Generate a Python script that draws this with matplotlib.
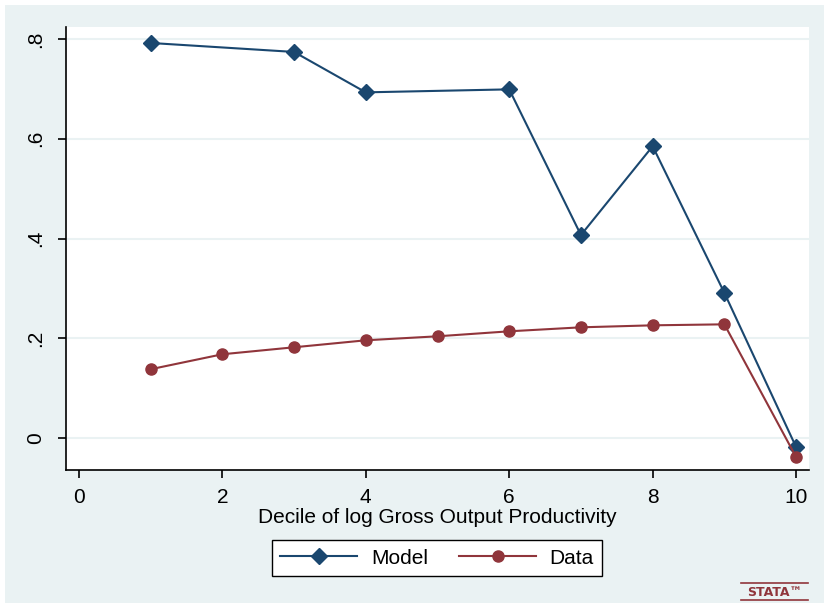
import matplotlib.pyplot as plt
from matplotlib.patches import Rectangle

plt.rcParams['font.family'] = ['Liberation Sans', 'DejaVu Sans']

# model values (deciles 2 and 5 missing)
model_x = [1, 3, 4, 6, 7, 8, 9, 10]
model_y = [0.792, 0.774, 0.693, 0.699, 0.407, 0.585, 0.291, -0.018]

data_x = [1, 2, 3, 4, 5, 6, 7, 8, 9, 10]
data_y = [0.138, 0.168, 0.182, 0.196, 0.204, 0.214, 0.222, 0.226, 0.228, -0.038]

yticks = [0, 0.2, 0.4, 0.6, 0.8]
ytick_labels = ["0", ".2", ".4", ".6", ".8"]
xticks = [0, 2, 4, 6, 8, 10]

navy = '#1a476f'
maroon = '#90353b'
bg = '#eaf2f3'

W, H = 824, 603
fig = plt.figure(figsize=(W / 100, H / 100), dpi=100)
fig.patch.set_facecolor('white')
fig.patches.append(Rectangle((5 / W, 0), 1 - 5 / W, 1 - 5 / H, transform=fig.transFigure,
                             facecolor=bg, edgecolor='none', zorder=-5))

ax = fig.add_axes([66 / W, 1 - 470 / H, (809 - 66) / W, (470 - 27) / H])
ax.set_facecolor('white')

ax.plot(model_x, model_y, color=navy, lw=1.5, marker='D', ms=8.5, label='Model', zorder=3)
ax.plot(data_x, data_y, color=maroon, lw=1.5, marker='o', ms=8, label='Data', zorder=3)

ax.set_xlim(-0.18, 10.18)
ax.set_ylim(-0.064, 0.824)
ax.set_yticks(yticks)
ax.set_yticklabels(ytick_labels, rotation=90, va='center')
ax.set_xticks(xticks)
ax.grid(axis='y', color=bg, lw=1.5)
ax.set_axisbelow(True)

for s in ['top', 'right']:
    ax.spines[s].set_visible(False)
ax.spines['left'].set_linewidth(1.2)
ax.spines['bottom'].set_linewidth(1.2)
ax.tick_params(axis='both', labelsize=15, length=6, width=1.2, direction='out')
ax.tick_params(axis='x', pad=7)
ax.tick_params(axis='y', pad=9)

ax.set_xlabel("Decile of log Gross Output Productivity", fontsize=15, labelpad=1)

leg = fig.legend(loc='center', bbox_to_anchor=(437 / W, 1 - 558 / H), ncol=2, fontsize=15,
                 frameon=True, fancybox=False, edgecolor='black', framealpha=1,
                 handlelength=3.7, handletextpad=0.65, columnspacing=1.5, borderpad=0.4)
leg.get_frame().set_linewidth(1.0)

fig.text(775 / W, 1 - 592 / H, "STATA\u2122", color=maroon, fontsize=9, ha='center', va='center',
         family='DejaVu Sans', fontweight='bold')
fig.lines.append(plt.Line2D([741 / W, 808 / W], [1 - 583 / H, 1 - 583 / H], transform=fig.transFigure,
                            color=maroon, lw=1.2))
fig.lines.append(plt.Line2D([741 / W, 808 / W], [1 - 600 / H, 1 - 600 / H], transform=fig.transFigure,
                            color=maroon, lw=1.2))

fig.savefig('out.png', dpi=100, facecolor=fig.get_facecolor())
